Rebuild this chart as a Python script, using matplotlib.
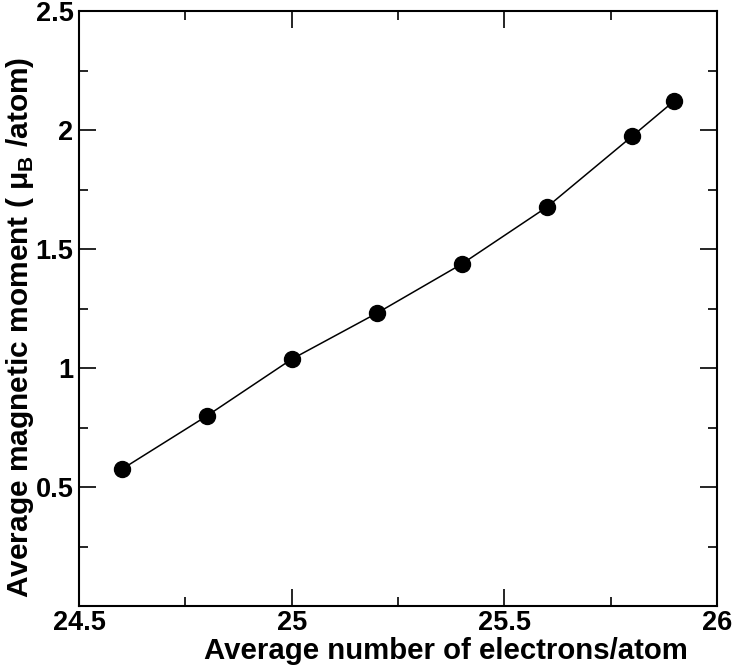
import matplotlib
matplotlib.use("Agg")
import matplotlib.pyplot as plt
from matplotlib.ticker import MultipleLocator, FuncFormatter

# average electrons per atom vs average magnetic moment
electrons = [24.6, 24.8, 25.0, 25.2, 25.4, 25.6, 25.8, 25.9]
moment = [0.574, 0.798, 1.037, 1.230, 1.437, 1.676, 1.973, 2.123]

plt.rcParams['font.family'] = ['Liberation Sans', 'DejaVu Sans']
plt.rcParams['font.weight'] = 'bold'
plt.rcParams['mathtext.fontset'] = 'custom'
plt.rcParams['mathtext.rm'] = 'Liberation Sans:bold'
plt.rcParams['mathtext.bf'] = 'Liberation Sans:bold'

fig = plt.figure(figsize=(7.32, 6.66), dpi=100)
ax = fig.add_axes([79 / 732, 60 / 666, 638 / 732, 595 / 666])

ax.plot(electrons, moment, '-', color='black', lw=1.1, zorder=2)
ax.plot(electrons, moment, 'o', color='black', ms=11.5, zorder=3)

ax.set_xlim(24.5, 26)
ax.set_ylim(0, 2.5)
ax.xaxis.set_major_locator(MultipleLocator(0.5))
ax.xaxis.set_minor_locator(MultipleLocator(0.25))
ax.yaxis.set_major_locator(MultipleLocator(0.5))
ax.yaxis.set_minor_locator(MultipleLocator(0.25))


def fmt(v, pos):
    # no label at zero on the y axis
    if abs(v) < 1e-9:
        return ''
    return '%g' % v


ax.xaxis.set_major_formatter(FuncFormatter(lambda v, p: '%g' % v))
ax.yaxis.set_major_formatter(FuncFormatter(fmt))

ax.tick_params(which='both', direction='in', top=True, right=True, width=1.2,
               labelsize=19.5)
ax.tick_params(which='major', length=12.5)
ax.tick_params(which='minor', length=6.5)
ax.tick_params(axis='x', pad=3)
ax.tick_params(axis='y', pad=4)
for sp in ax.spines.values():
    sp.set_linewidth(1.5)

ax.set_xlabel('Average number of electrons/atom', fontsize=21.2, fontweight='bold')
ax.set_ylabel('Average magnetic moment ( μ$_\\mathbf{B}$ /atom)', fontsize=21.5,
              fontweight='bold')
ax.xaxis.set_label_coords(0.575, -0.052)
ax.yaxis.set_label_coords(-0.068, 0.469)

fig.savefig('out.png', dpi=100)
